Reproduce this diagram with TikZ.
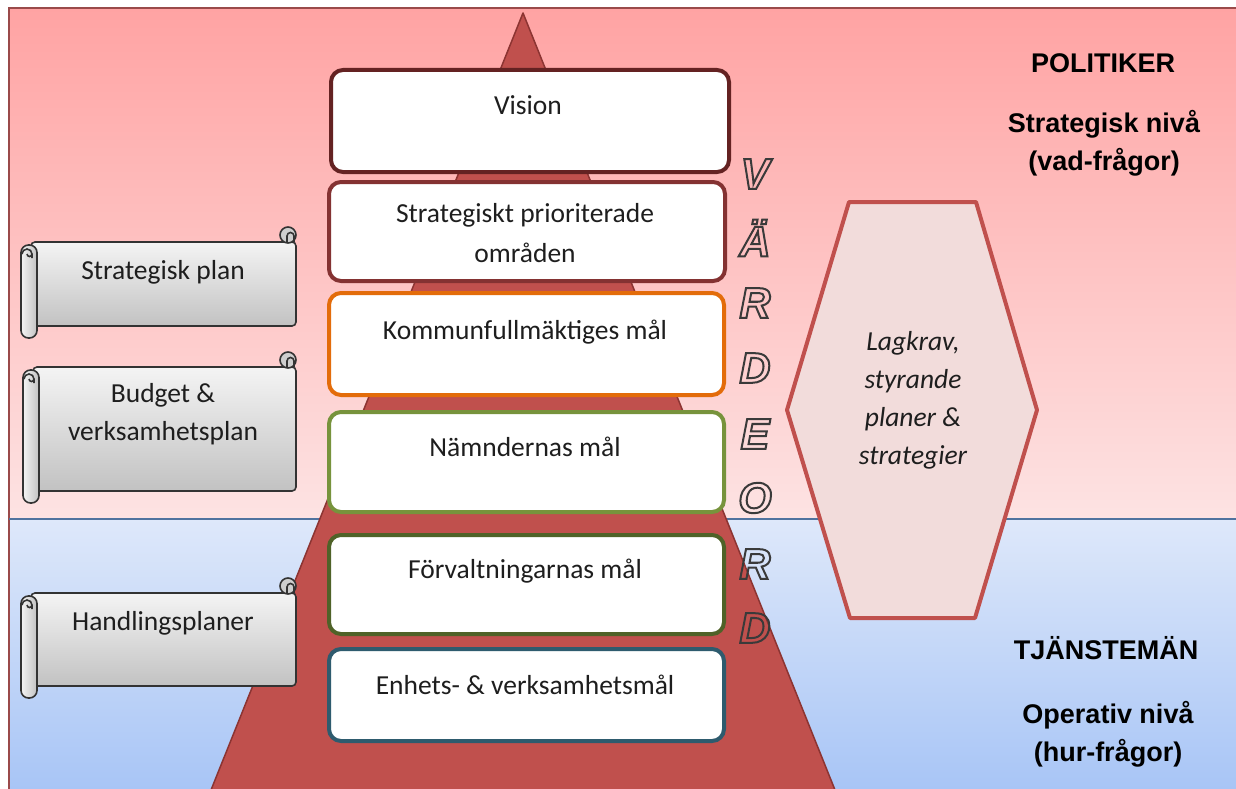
\documentclass[tikz,border=0pt]{standalone}
\usepackage{fontspec}
\setmainfont{Carlito}
\newfontfamily\headfont{Liberation Sans}
\usetikzlibrary{calc}
\definecolor{pinkTop}{HTML}{FFA3A3}
\definecolor{pinkBot}{HTML}{FDE3E3}
\definecolor{blueTop}{HTML}{DEE8FA}
\definecolor{blueBot}{HTML}{A8C5F6}
\definecolor{frameRed}{HTML}{9A4A4A}
\definecolor{sepBlue}{HTML}{4F739F}
\definecolor{pyrFill}{HTML}{C0504D}
\definecolor{pyrLine}{HTML}{8C3432}
\definecolor{cVision}{HTML}{642222}
\definecolor{cStrat}{HTML}{843232}
\definecolor{cKomm}{HTML}{E36C0A}
\definecolor{cNamnd}{HTML}{77933C}
\definecolor{cForv}{HTML}{4F6228}
\definecolor{cEnh}{HTML}{2E5B6E}
\definecolor{txt}{HTML}{1E1E1E}
\definecolor{hexFill}{HTML}{F2DCDB}
\definecolor{hexLine}{HTML}{C0504D}
\definecolor{scrTop}{HTML}{F4F4F4}
\definecolor{scrBot}{HTML}{C2C2C2}
\definecolor{scrLine}{HTML}{333333}
\definecolor{letLine}{HTML}{3A3A3A}
\newcommand\outlined[1]{\special{pdf:literal direct 1 Tr 2 w}#1\special{pdf:literal direct 0 Tr}}
\newcommand\scrollshape[4]{%
  \draw[sline, top color=scrTop, bottom color=scrBot, rounded corners=4pt] (#1-4,#2) rectangle (#3,#4);
  \draw[sline, fill=scrBot!80!white] (#3-8,#2-7) circle (8pt);
  \draw[sline] (#3-9,#2) -- (#3-9,#2-6) arc (180:0:3.5pt) -- (#3-2,#2);
  \draw[sline, left color=scrTop, right color=scrBot, rounded corners=7.5pt] (#1-14,#2+3) rectangle (#1+2,#4+12);
  \draw[sline] (#1-13,#2+12) arc (180:0:5pt) -- (#1-3,#2+16);
  \draw[sline] (#1-3,#2+12) arc (0:-180:2.5pt);
}
\begin{document}
\begin{tikzpicture}[x=1pt,y=-1pt,
  goal/.style={draw=#1, line width=4pt, fill=white, rounded corners=12pt, anchor=north west, inner sep=0pt},
  gtext/.style={font=\fontsize{27.5}{40}\selectfont, text=txt, align=center, inner sep=0pt},
  sline/.style={draw=scrLine, line width=1.6pt},
  stext/.style={font=\fontsize{27.5}{38}\selectfont, text=txt, align=center, inner sep=0pt},
  letter/.style={font=\headfont\bfseries\itshape\fontsize{43}{43}\selectfont, text=letLine, inner sep=0pt},
  head/.style={font=\headfont\bfseries\fontsize{27}{38}\selectfont, text=black, align=center, inner sep=0pt}]
\useasboundingbox (0,0) rectangle (1236,789);
\fill[white] (0,0) rectangle (1236,789);
% backgrounds
\shade[top color=pinkTop, bottom color=pinkBot] (9,8) rectangle (1236,519);
\shade[top color=blueTop, bottom color=blueBot] (9,519) rectangle (1236,789);
\draw[frameRed, line width=1.3pt] (9,789) -- (9,8) -- (1236,8);
\draw[sepBlue, line width=1.5pt] (9,519) -- (1236,519);
% pyramid
\coordinate (apex) at (523,13);
\coordinate (bl) at (211,790);
\coordinate (br) at (835,790);
\draw[fill=pyrFill, draw=pyrLine, line width=1.5pt, line join=round] (apex) -- (br) -- (bl) -- cycle;
% goal boxes
\node[goal=cVision, minimum width=398pt, minimum height=102pt] (vision) at (329,68) {};
\node[goal=cStrat, minimum width=396pt, minimum height=99pt] (strat) at (327,180) {};
\node[goal=cKomm, minimum width=395pt, minimum height=102pt] (komm) at (327,291) {};
\node[goal=cNamnd, minimum width=395pt, minimum height=100pt] (namnd) at (327,410) {};
\node[goal=cForv, minimum width=395pt, minimum height=99pt] (forv) at (327,533) {};
\node[goal=cEnh, minimum width=395pt, minimum height=92pt] (enh) at (327,647) {};
\node[gtext] (visiont) at (528,105) {Vision};
\node[gtext] (stratt) at (525,233) {Strategiskt prioriterade\\områden};
\node[gtext] (kommt) at (525,332) {Kommunfullmäktiges mål};
\node[gtext] (namndt) at (525,447) {Nämndernas mål};
\node[gtext] (forvt) at (525,571) {Förvaltningarnas mål};
\node[gtext] (enht) at (525,685) {Enhets- \& verksamhetsmål};
% scrolls
\scrollshape{35}{242}{296}{326}
\scrollshape{37}{367}{296}{491}
\scrollshape{35}{593}{296}{686}
\node[stext] (s1) at (163,272) {Strategisk plan};
\node[stext] (s2) at (163,414) {Budget \&\\verksamhetsplan};
\node[stext] (s3) at (163,623) {Handlingsplaner};
% hexagon
\draw[fill=hexFill, draw=hexLine, line width=4pt, line join=round]
  (849,202) -- (976,202) -- (1037,410) -- (975,618) -- (850,618) -- (787,410) -- cycle;
\node[gtext, font=\itshape\fontsize{27.5}{38}\selectfont] (hext) at (913,400) {Lagkrav,\\styrande\\planer \&\\strategier};
% vardeord letters
\node[letter] (l1) at (755,174) {\outlined{V}};
\node[letter] (l2) at (755,238) {\outlined{Ä}};
\node[letter] (l3) at (755,303) {\outlined{R}};
\node[letter] (l4) at (755,368) {\outlined{D}};
\node[letter] (l5) at (755,434) {\outlined{E}};
\node[letter] (l6) at (755,498) {\outlined{O}};
\node[letter] (l7) at (755,564) {\outlined{R}};
\node[letter] (l8) at (755,628) {\outlined{D}};
% right side labels
\node[head] (pol) at (1103,63) {POLITIKER};
\node[head] (strn) at (1104,143) {Strategisk nivå\\(vad-frågor)};
\node[head] (tja) at (1106,648) {TJÄNSTEMÄN};
\node[head] (opn) at (1108,734) {Operativ nivå\\(hur-frågor)};
\end{tikzpicture}
\end{document}
